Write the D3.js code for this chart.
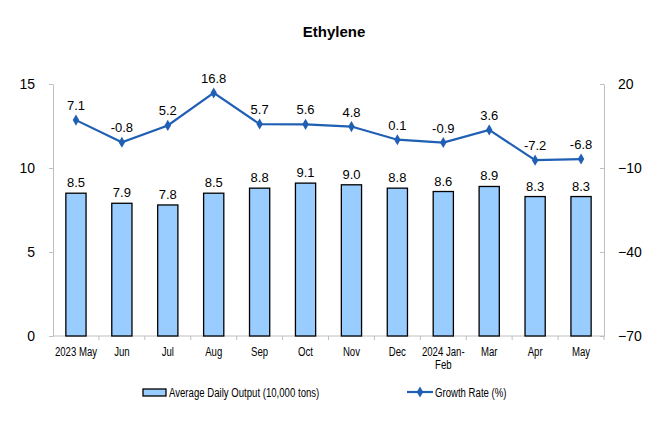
<!DOCTYPE html>
<html>
<head>
<meta charset="utf-8">
<script src="https://cdn.jsdelivr.net/npm/d3@7"></script>
<style>
  body { margin: 0; background: #fff; }
  svg text { font-family: "Liberation Sans", Arial, sans-serif; fill: #000; }
</style>
</head>
<body>
<div id="chart"></div>
<script>
// Chart data
var months = ['2023 May', 'Jun', 'Jul', 'Aug', 'Sep', 'Oct', 'Nov', 'Dec', '2024 Jan-Feb', 'Mar', 'Apr', 'May'];
var output = [8.5, 7.9, 7.8, 8.5, 8.8, 9.1, 9.0, 8.8, 8.6, 8.9, 8.3, 8.3];
var growth = [7.1, -0.8, 5.2, 16.8, 5.7, 5.6, 4.8, 0.1, -0.9, 3.6, -7.2, -6.8];
var leftTicks = [0, 5, 10, 15];
var rightTicks = [-70, -40, -10, 20];

var width = 660;
var height = 440;
var margin = { top: 84, right: 56, bottom: 104, left: 53 };
var innerWidth = width - margin.left - margin.right;
var innerHeight = height - margin.top - margin.bottom;
var lineColor = '#1f5fb4';
var narrow = 0.8; // condensed look of the category and legend font

var svg = d3.select('#chart').append('svg')
    .attr('width', width)
    .attr('height', height);

// Squeeze a text horizontally around its anchor
function condense(sel) {
  sel.each(function () {
    var w = this.getComputedTextLength();
    d3.select(this).attr('textLength', w * narrow).attr('lengthAdjust', 'spacingAndGlyphs');
  });
}

// Title
svg.append('text')
    .attr('x', 334)
    .attr('y', 37)
    .attr('text-anchor', 'middle')
    .style('font-size', '15px')
    .style('font-weight', 'bold')
    .text('Ethylene');

var g = svg.append('g')
    .attr('transform', 'translate(' + margin.left + ',' + margin.top + ')');

// Scales
var x = d3.scaleBand().domain(months).range([0, innerWidth]).paddingInner(0.56).paddingOuter(0.28);
var xc = d3.scaleBand().domain(months).range([0, innerWidth]);
var yLeft = d3.scaleLinear().domain([0, 15]).range([innerHeight, 0]);
var yRight = d3.scaleLinear().domain([-70, 20]).range([innerHeight, 0]);

// Left axis
var axisL = g.append('g')
    .call(d3.axisLeft(yLeft).tickValues(leftTicks).tickSizeInner(4).tickSizeOuter(0).tickPadding(14));
axisL.select('.domain').attr('stroke', '#bfbfbf');
axisL.selectAll('.tick line').attr('stroke', '#bfbfbf');
axisL.selectAll('.tick text').style('font-size', '14px').attr('font-family', null);

// Right axis
var axisR = g.append('g')
    .attr('transform', 'translate(' + innerWidth + ',0)')
    .call(d3.axisRight(yRight).tickValues(rightTicks).tickSizeInner(-4).tickSizeOuter(0).tickPadding(14));
axisR.select('.domain').attr('stroke', '#bfbfbf');
axisR.selectAll('.tick line').attr('stroke', '#bfbfbf');
axisR.selectAll('.tick text').style('font-size', '14px').attr('font-family', null);

// Bottom axis, ticks between categories
var axisB = g.append('g')
    .attr('transform', 'translate(0,' + innerHeight + ')');
axisB.append('line')
    .attr('x1', 0).attr('x2', innerWidth)
    .attr('stroke', '#bfbfbf');
axisB.selectAll('.sep')
    .data(months)
    .enter().append('line')
    .attr('class', 'sep')
    .attr('x1', function (d) { return xc(d) + xc.bandwidth(); })
    .attr('x2', function (d) { return xc(d) + xc.bandwidth(); })
    .attr('y1', 0).attr('y2', 4)
    .attr('stroke', '#bfbfbf');
months.forEach(function (d) {
  var cx = xc(d) + xc.bandwidth() / 2;
  var parts = d === '2024 Jan-Feb' ? ['2024 Jan-', 'Feb'] : [d];
  parts.forEach(function (p, i) {
    axisB.append('text')
        .attr('class', 'lbl')
        .attr('x', cx)
        .attr('y', 20 + i * 13)
        .attr('text-anchor', 'middle')
        .style('font-size', '12px')
        .text(p);
  });
});
axisB.selectAll('.lbl').call(condense);

// Bars
g.selectAll('.bar')
    .data(output)
    .enter().append('rect')
    .attr('class', 'bar')
    .attr('x', function (d, i) { return x(months[i]); })
    .attr('y', function (d) { return yLeft(d); })
    .attr('width', x.bandwidth())
    .attr('height', function (d) { return innerHeight - yLeft(d); })
    .attr('fill', '#99ccff')
    .attr('stroke', '#000')
    .attr('stroke-width', 1.3);

g.selectAll('.bar-label')
    .data(output)
    .enter().append('text')
    .attr('class', 'bar-label')
    .attr('x', function (d, i) { return xc(months[i]) + xc.bandwidth() / 2; })
    .attr('y', function (d) { return yLeft(d) - 6; })
    .attr('text-anchor', 'middle')
    .style('font-size', '13px')
    .text(function (d) { return d.toFixed(1); });

// Growth line
var line = d3.line()
    .x(function (d, i) { return xc(months[i]) + xc.bandwidth() / 2; })
    .y(function (d) { return yRight(d); });

g.append('path')
    .datum(growth)
    .attr('d', line)
    .attr('fill', 'none')
    .attr('stroke', lineColor)
    .attr('stroke-width', 2.2);

var diamond = d3.symbol().type(d3.symbolDiamond).size(36);
g.selectAll('.pt')
    .data(growth)
    .enter().append('path')
    .attr('class', 'pt')
    .attr('d', diamond)
    .attr('transform', function (d, i) {
      return 'translate(' + (xc(months[i]) + xc.bandwidth() / 2) + ',' + yRight(d) + ')';
    })
    .attr('fill', lineColor);

g.selectAll('.pt-label')
    .data(growth)
    .enter().append('text')
    .attr('class', 'pt-label')
    .attr('x', function (d, i) { return xc(months[i]) + xc.bandwidth() / 2; })
    .attr('y', function (d) { return yRight(d) - 10; })
    .attr('text-anchor', 'middle')
    .style('font-size', '13px')
    .text(function (d) { return d.toFixed(1); });

// Legend
var legend = svg.append('g');
legend.append('rect')
    .attr('x', 143).attr('y', 389)
    .attr('width', 23).attr('height', 7)
    .attr('fill', '#99ccff')
    .attr('stroke', '#000')
    .attr('stroke-width', 1.3);
legend.append('text')
    .attr('class', 'leg')
    .attr('x', 169).attr('y', 397)
    .style('font-size', '12px')
    .text('Average Daily Output (10,000 tons)');
legend.append('line')
    .attr('x1', 407).attr('x2', 433)
    .attr('y1', 392).attr('y2', 392)
    .attr('stroke', lineColor)
    .attr('stroke-width', 2.2);
legend.append('path')
    .attr('d', diamond)
    .attr('transform', 'translate(420,392)')
    .attr('fill', lineColor);
legend.append('text')
    .attr('class', 'leg')
    .attr('x', 435).attr('y', 397)
    .style('font-size', '12px')
    .text('Growth Rate (%)');
legend.selectAll('.leg').call(condense);
</script>
</body>
</html>
